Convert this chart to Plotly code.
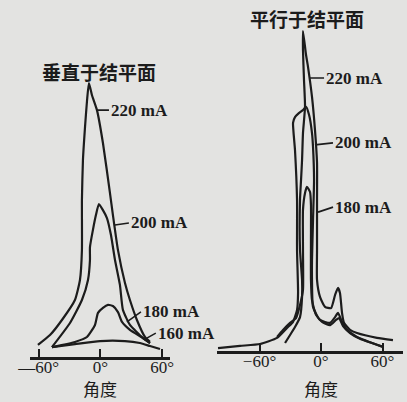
import plotly.graph_objects as go

W, H = 407, 402

# ---------------- data: left panel (perpendicular to junction plane) ----------------
L220_ang = [-60.7, -49, -37.4, -24.8, -19.9, -18, -18, -17, -15, -13, -11.2,
            -8.3, -3.4, 2.4, 9.2, 12.1, 17, 23.8, 28.6, 35.4, 43.2, 48]
L220_int = [4.4, 8, 13.5, 20.8, 28.1, 39, 57.3, 71.9, 83.9, 93.8, 100,
            95.6, 90.1, 78.1, 59.9, 51.8, 39, 27, 20.8, 13.5, 7.3, 5.5]

L200_ang = [-47.1, -29.6, -18, -12.1, -10.2, -10.2, -7.3, -4.4, -1.5,
            2.4, 6.3, 10.2, 14.1, 18.9, 21.8, 28.6, 41.3, 48.1]
L200_int = [3.6, 12.4, 20.8, 28.1, 35.4, 40.1, 46.4, 51.8, 55.8,
            53.6, 50.7, 44.5, 35.4, 26.3, 17.2, 11.7, 6.9, 5.1]

L180_ang = [-47.1, -36.4, -24.8, -13.1, -5.3, -2.4, 2.4, 7.3, 12.1, 17, 20.9, 28.6, 41.3, 48.1]
L180_int = [3.6, 4.4, 5.5, 7.3, 11.7, 16.1, 17.9, 19, 18.6, 16.4, 12.8, 9.9, 6.9, 5.1]

L160_ang = [-47.1, -24.8, -0.5, 23.8, 38.3, 48.1, 57.8]
L160_int = [3.6, 4.7, 5.8, 5.8, 5.1, 4.0, 2.9]

# ---------------- data: right panel (parallel to junction plane) ----------------
R220_ang = [-35.1, -30.2, -25.4, -20.5, -18.5, -18.5, -20.5, -20.5, -19.5, -18.5, -17.6, -15.6,
            -16.6, -17.6, -17.6, -14.6, -12.7, -8.8, -5.9, -3.9, -3.9, -3.9, -3.9, -1, 3.9,
            9.8, 13.7, 16.6, 18.5, 20.5, 22.4, 28.3, 35.1, 54.6, 70.2]
R220_int = [2.5, 5, 7.5, 10.6, 16.9, 22.2, 31.6, 47.2, 53.4, 59.7, 68.1, 76.3,
            84.7, 94.1, 100, 92.5, 88.8, 79.4, 69.1, 58.8, 47.2, 31.6, 22.2, 16.9, 13.8,
            13.4, 17.5, 19.7, 18.1, 11.9, 8.8, 6.6, 5.6, 4.1, 3.4]

R200_ang = [-100.5, -79, -59.5, -42.9, -33.2, -27.3, -23.4, -22.4, -23.4, -23.4, -25.4, -27.3,
            -25.4, -22.4, -17.6, -14.6, -11.7, -8.8, -7.8, -6.8, -7.8, -8.8, -8.8, -7.8,
            -1, 8.8, 13.7, 16.6, 20.5, 25.4, 35.1, 60.5]
R200_int = [0.9, 1.6, 2.2, 4.1, 7.2, 9.1, 12.8, 18.1, 31.6, 47.2, 62.8, 71.3,
            73.1, 74.1, 75.3, 76.3, 73.8, 68.1, 63.8, 53.4, 40.9, 28.4, 22.2, 13.8,
            9.7, 8.8, 10.6, 11.9, 9.1, 6.6, 4.4, 1.3]

R180_ang = [-42.9, -37.1, -30.2, -24.4, -20.5, -17.6, -17.6, -17.6, -15.6, -13.7, -10.7, -9.8,
            -9.8, -9.8, -8.8, -4.9, 1, 8.8, 14.6, 17.6, 21.5, 28.3, 38, 60.5]
R180_int = [4.4, 6.6, 8.8, 10.3, 14.4, 19.1, 31.6, 44.1, 49.4, 51.3, 49.7, 45.6,
            34.7, 22.2, 15.9, 11.3, 9.1, 8.1, 9.7, 10.3, 7.8, 5.6, 3.8, 1.3]

tick_vals = [-60, 0, 60]
left_tick_text = ["—60°", "0°", "60°"]
right_tick_text = ["−60°", "0°", "60°"]

BG = "#e3e3e1"
INK = "#1c1c1c"
LINE_W = 2.2

fig = go.Figure()

def add(xs, ys, xa, ya):
    fig.add_trace(go.Scatter(x=xs, y=ys, mode="lines", xaxis=xa, yaxis=ya,
                             line=dict(color=INK, width=LINE_W, shape="spline", smoothing=0.5),
                             hoverinfo="skip", showlegend=False, cliponaxis=False))

for xs, ys in [(L220_ang, L220_int), (L200_ang, L200_int), (L180_ang, L180_int), (L160_ang, L160_int)]:
    add(xs, ys, "x", "y")
for xs, ys in [(R220_ang, R220_int), (R200_ang, R200_int), (R180_ang, R180_int)]:
    add(xs, ys, "x2", "y2")

# axes geometry
ly0, ly1 = (H - 357) / H, 0.90
ry0, ry1 = (H - 351) / H, 0.95
L_PX = 2.74   # px per intensity unit, left
R_PX = 3.2    # px per intensity unit, right

tickfont = dict(family="Liberation Serif", size=17, color=INK)
common_x = dict(showgrid=False, zeroline=False, showline=True, linecolor=INK, linewidth=2.5,
                ticks="inside", ticklen=8, tickwidth=2, tickcolor=INK, tickvals=tick_vals,
                tickfont=tickfont, fixedrange=True, automargin=False, ticklabelstandoff=-7)
common_y = dict(showgrid=False, zeroline=False, showline=False, showticklabels=False,
                ticks="", fixedrange=True, automargin=False)

fig.update_layout(
    width=W, height=H, margin=dict(l=0, r=0, t=0, b=0, pad=0, autoexpand=False),
    paper_bgcolor=BG, plot_bgcolor=BG,
    xaxis=dict(domain=[30 / W, 170 / W], range=[-68.4, 67.5], anchor="y",
               ticktext=left_tick_text, **common_x),
    yaxis=dict(domain=[ly0, ly1], range=[0, (ly1 - ly0) * H / L_PX], anchor="x", **common_y),
    xaxis2=dict(domain=[217 / W, 403 / W], range=[-101.5, 80], anchor="y2",
                ticktext=right_tick_text, **common_x),
    yaxis2=dict(domain=[ry0, ry1], range=[0, (ry1 - ry0) * H / R_PX], anchor="x2", **common_y),
)

labfont = dict(family="Liberation Serif", size=17, color=INK)
cjk = dict(family="Noto Sans CJK SC", size=18, color=INK)

def label(text, x, y, ax, ay, xr, yr):
    fig.add_annotation(text="<b>" + text + "</b>", x=x, y=y, xref=xr, yref=yr,
                       ax=ax, ay=ay, showarrow=True, arrowhead=0, arrowwidth=1.6,
                       arrowcolor=INK, standoff=0, xanchor="left", yanchor="middle",
                       font=labfont)

label("220 mA", -3.4, 90.1, 12, 0, "x", "y")
label("200 mA", 14, 48.2, 14, -2, "x", "y")
label("180 mA", 25.7, 12.8, 14, -10, "x", "y")
label("160 mA", 45, 6.9, 9, -5, "x", "y")
label("220 mA", -10.7, 85.3, 14, 0, "x2", "y2")
label("200 mA", -5.9, 64.4, 18, -2, "x2", "y2")
label("180 mA", -2.9, 43.4, 15, -5, "x2", "y2")

def text(t, x, y, xr="paper", size=19):
    fig.add_annotation(text=t, x=x, y=y, xref=xr, yref="paper", showarrow=False,
                       xanchor="center", yanchor="middle", font=dict(cjk, size=size))

text("<b>垂直于结平面</b>", 99 / W, 1 - 72 / H)
text("<b>平行于结平面</b>", 307 / W, 1 - 18 / H)
text("角度", 0, 1 - 388 / H, "x", 17)
text("角度", 0, 1 - 388 / H, "x2", 17)

fig.write_html("out.html")
